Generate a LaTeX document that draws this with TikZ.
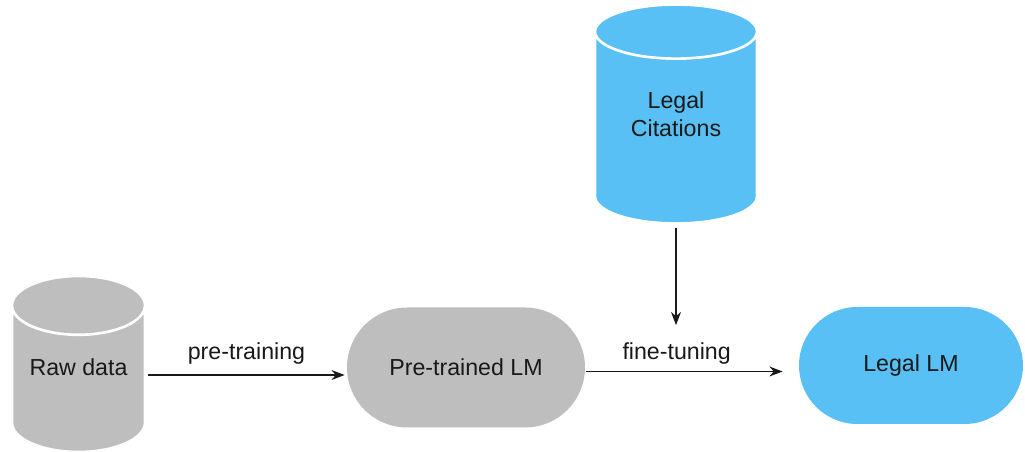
\documentclass[tikz,border=0pt]{standalone}
\usepackage{fontspec}
\setmainfont{Liberation Sans}
\usetikzlibrary{positioning, shapes.geometric, shapes.misc, arrows.meta, calc}

\definecolor{dbgray}{RGB}{190,190,190}
\definecolor{dbblue}{RGB}{88,192,244}
\definecolor{ink}{RGB}{25,25,25}

\begin{document}
\begin{tikzpicture}[x=0.02cm, y=-0.02cm, >=Stealth,
    every node/.style={font=\fontsize{13.2}{16}\selectfont, text=ink, align=center},
    store/.style={cylinder, shape border rotate=90, aspect=0.6, draw=white, line width=1.5pt, inner sep=0pt, anchor=shape center},
    model/.style={rounded rectangle, inner sep=0pt},
    flow/.style={->, line width=1pt, draw=ink}]
        \useasboundingbox (0,0) rectangle (1025,452);

        % Nodes
        \node[store, fill=dbgray, minimum width=133*0.02cm, minimum height=176*0.02cm] (raw) at (78.5, 364) {\raisebox{0.48cm}{Raw data}};
        \node[store, fill=dbblue, minimum width=162*0.02cm, minimum height=219*0.02cm] (cit) at (676, 114) {\raisebox{0.92cm}{\begin{tabular}{@{}c@{}}Legal\\Citations\end{tabular}}};
        \node[model, fill=dbgray, minimum width=238*0.02cm, minimum height=120*0.02cm] (pre) at (466, 367.5) {Pre-trained LM};
        \node[model, fill=dbblue, minimum width=224*0.02cm, minimum height=117*0.02cm] (legal) at (911, 365.5) {Legal LM};

        % Edges
        \draw[flow] ($(raw.east |- raw.shape center)+(2,11)$) -- node[above=2pt] {pre-training} ($(raw.shape center -| pre.west)+(-2,11)$);
        \draw[flow] ($(pre.east)+(1,4)$) -- node[above=0.5pt, pos=0.46] {fine-tuning} ($(pre.east -| legal.west)+(-16,4)$);
        \draw[flow] ($(cit.south)+(0,3)$) -- ($(cit.south |- pre.north)+(0,18)$);
      \end{tikzpicture}
\end{document}
